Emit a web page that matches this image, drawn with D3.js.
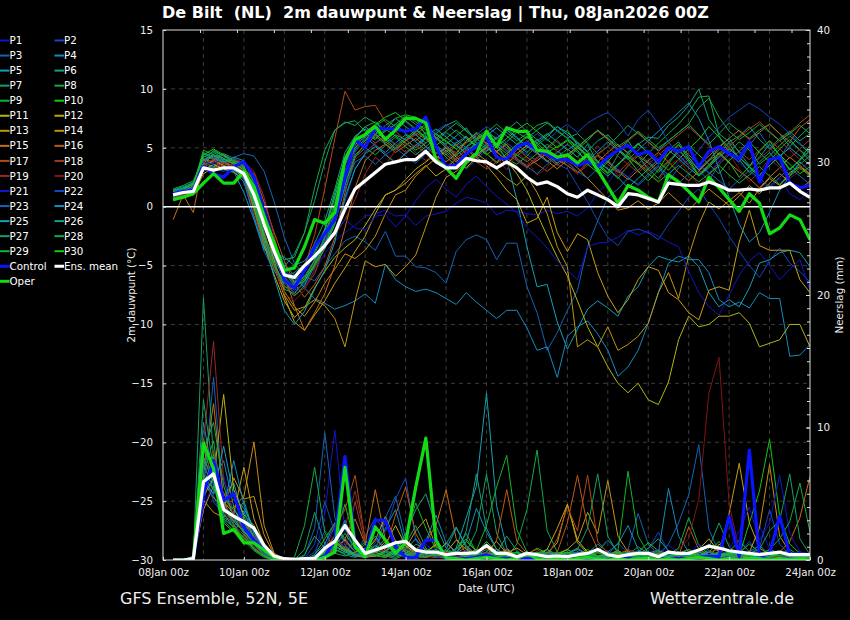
<!DOCTYPE html>
<html>
<head>
<meta charset="utf-8">
<script src="https://cdn.jsdelivr.net/npm/d3@7"></script>
<style>
  body { margin: 0; background: #000; }
  text { font-family: "DejaVu Sans", sans-serif; }
</style>
</head>
<body>
<svg id="chart" width="850" height="620"></svg>
<script>
// forecast steps (hours after 08Jan2026 00z), 6-hourly
const stepHours = d3.range(6, 385, 6);

// ---- 2m dewpoint (°C) ----
const dewControl = [1.1,1.3,1.4,3.4,2.8,2.5,3.4,3.8, 2.5,-0.5,-3.4,-6.2,-6.9,-5.4,-3.4,-2.3,
  -1.1,2.5,5.7,5.0,6.7,6.6,6.6,6.4, 6.6,7.6,5.1,3.4,3.5,4.5,5.1,5.9,
  4.2,4.0,5.1,5.4,4.8,4.4,4.0,4.0, 3.5,3.8,3.4,4.2,4.8,5.2,4.4,4.7,
  3.8,5.0,4.7,5.1,3.4,4.7,5.1,4.5, 4.1,5.5,2.1,4.0,4.2,2.0,1.6,1.8];
const dewOper = [0.6,0.8,1.1,2.0,2.8,2.0,2.0,3.0, 1.7,-0.8,-3.1,-5.4,-5.2,-3.4,-1.1,-1.4,
  -0.5,4.0,5.7,6.1,6.8,5.7,6.5,7.5, 7.5,7.1,4.0,3.3,2.4,3.8,4.5,6.4,
  5.1,6.7,6.4,6.4,4.8,4.7,4.2,4.4, 3.7,4.4,3.1,1.7,0.3,1.8,1.4,0.8,
  0.4,2.7,2.1,1.3,0.4,2.5,1.6,0.6, -0.4,1.1,0.3,-2.3,-1.8,-0.7,-1.1,-2.8];
const dewMean = [1.0,1.2,1.3,3.3,3.1,3.3,3.3,2.8, 1.0,-1.5,-3.8,-5.8,-6.0,-5.0,-4.2,-3.3,
  -2.2,-0.2,1.5,2.2,2.9,3.6,3.8,4.0, 4.0,4.7,3.8,3.3,3.3,4.1,3.9,3.8,
  3.3,3.8,3.3,2.5,1.9,2.1,1.7,1.1, 0.8,1.4,1.0,0.6,0.0,1.1,1.0,0.7,
  0.4,2.0,1.9,1.8,1.8,2.1,1.8,1.4, 1.4,1.5,1.4,1.6,1.6,2.0,1.3,0.8];

// members P1..P30
const dewMembers = [
  [1.2,1.4,1.6,3.6,3.9,3.7,4.0,3.6, 2.5,0.2,-2.8,-5.0,-6.2,-6.8,-5.5,-4.0, -2.9,-2.2,-1.6,-0.8,-0.6,-0.3,-0.8,-0.7, -1.6,-0.8,-0.6,-0.4,0.3,0.8,0.6,0.3, -0.7,-0.3,-0.4,-0.6,-0.7,-0.3,-0.6,-0.4, -0.8,-0.1,1.2,2.0,3.2,2.5,3.4,4.0, 3.1,2.6,3.8,4.4,3.5,2.8,3.9,4.6, 3.7,3.0,2.2,1.5,2.4,1.1,0.6,1.4],
  [0.9,1.1,1.3,3.2,3.5,3.9,3.3,2.8, 1.1,-1.8,-4.2,-6.4,-7.1,-6.6,-5.0,-3.6, -2.0,0.5,3.2,4.6,5.4,5.9,5.2,5.8, 6.2,5.1,4.6,4.9,5.5,4.8,5.3,6.0, 5.4,4.7,5.0,4.4,3.9,4.5,3.6,3.2, 1.8,0.4,-1.2,-2.6,-3.3,-2.1,-1.9,-2.2, -2.8,-1.5,-0.4,0.8,1.5,0.2,-1.0,-2.5, -3.8,-5.0,-6.0,-4.6,-3.5,-4.8,-5.5,-6.4],
  [1.0,1.3,1.5,3.0,3.4,3.8,4.2,4.5, 4.3,3.0,0.4,-2.6,-4.8,-5.9,-6.3,-5.1, -4.0,-2.9,-2.5,-3.0,-3.7,-2.1,-4.2,-4.2, -5.1,-5.2,-5.6,-6.5,-3.8,-2.8,-2.4,-2.8, -4.5,-3.1,-3.1,-6.8,-9.0,-12.2,-10.7,-8.8, -7.1,-3.4,-1.2,0.8,1.5,2.4,1.9,2.8, 3.5,2.1,3.3,4.0,3.1,2.2,3.6,4.4, 3.8,5.2,6.3,5.0,4.1,5.5,4.8,4.2],
  [1.3,1.5,1.8,3.9,4.4,3.5,3.0,2.1, -0.8,-3.5,-4.6,-5.0,-5.8,-6.9,-7.8,-8.2, -8.7,-8.4,-8.0,-7.4,-8.2,-4.9,-6.2,-6.8, -7.2,-7.0,-7.3,-7.8,-8.3,-7.3,-8.1,-8.8, -9.5,-8.8,-8.8,-10.3,-12.2,-11.9,-14.5,-11.0, -10.2,-9.7,-10.8,-12.2,-14.4,-13.6,-12.2,-9.9, -7.3,-4.8,-4.2,-4.5,-4.5,-5.6,-7.9,-8.5, -8.1,-8.6,-7.3,-7.8,-7.8,-12.7,-12.6,-11.7],
  [1.1,1.2,1.6,3.4,4.6,4.1,3.6,3.2, 1.8,-0.9,-3.2,-5.2,-6.4,-5.9,-4.6,-2.8, -0.4,3.1,4.8,5.6,6.2,5.4,6.1,5.7, 5.0,5.8,5.2,4.6,5.4,6.0,5.1,4.7, 5.3,4.0,0.6,-3.4,-6.8,-6.6,-9.8,-12.1, -10.4,-8.7,-8.0,-8.6,-9.3,-7.6,-6.8,-5.1, -4.2,-4.5,-4.7,-4.2,-5.1,-7.3,-8.5,-7.9, -8.5,-6.9,-4.8,-4.5,-3.9,-3.7,-3.9,-5.1],
  [1.4,1.7,2.0,4.3,4.0,3.8,3.9,3.5, 0.6,-2.4,-4.5,-6.0,-5.6,-4.9,-3.1,-1.2, 1.5,4.6,6.0,6.6,5.8,6.4,7.0,6.2, 5.6,6.3,5.9,5.2,4.4,5.0,5.7,6.3, 5.8,6.6,5.9,5.1,5.6,6.2,5.5,4.8, 5.4,4.7,5.6,6.1,5.2,4.6,5.3,5.9, 5.8,6.9,7.6,8.6,10.0,7.4,6.2,5.5, 6.0,6.8,5.7,4.9,5.8,6.4,5.6,6.2],
  [1.2,1.5,1.9,4.6,4.2,4.5,4.1,3.3, 0.2,-2.6,-4.4,-5.1,-4.0,-2.2,0.5,3.8, 6.5,7.1,7.3,6.4,6.9,7.4,6.8,7.6, 7.0,6.2,5.8,5.3,6.0,6.7,5.4,5.0, 4.6,5.5,6.3,5.8,6.5,7.1,6.4,5.8, 6.2,5.4,4.5,5.1,6.0,6.9,6.2,5.5, 4.8,5.6,6.3,7.0,6.1,5.3,6.2,7.1, 6.4,5.8,6.5,7.0,6.2,5.1,6.0,6.8],
  [0.8,1.0,1.4,3.8,4.8,4.3,3.7,3.1, 1.0,-1.5,-4.0,-5.5,-6.5,-6.0,-5.2,-3.5, -1.5,1.8,4.4,5.2,6.0,5.3,4.8,5.6, 6.4,7.0,6.1,5.5,4.9,4.0,4.6,5.3, 5.9,5.2,4.4,3.8,4.5,5.3,4.7,4.1, 4.9,5.6,6.5,5.8,4.9,4.2,3.6,4.5, 5.4,6.2,7.0,8.0,9.3,9.4,6.0,4.6, 5.5,4.8,3.6,4.3,5.2,6.0,5.3,4.5],
  [1.5,1.8,2.2,4.1,3.6,3.3,3.5,2.7, 0.0,-3.0,-5.4,-7.0,-7.4,-6.3,-4.5,-2.5, 0.4,3.5,5.8,6.8,7.2,6.5,7.5,7.8, 7.6,6.0,5.1,4.2,3.5,4.4,5.6,6.2, 5.0,4.1,3.6,4.3,5.2,5.9,6.8,6.3, 5.5,4.6,3.8,3.2,2.4,3.5,4.3,3.7, 2.9,3.8,4.6,5.2,4.4,3.6,2.8,3.9, 4.7,5.5,4.6,3.8,4.9,5.7,4.8,3.9],
  [1.0,1.3,1.7,3.7,3.4,4.0,3.8,2.9, 0.9,-1.3,-3.6,-5.6,-6.7,-5.4,-3.8,-1.9, 1.2,4.0,5.5,6.2,5.7,6.6,6.0,5.4, 4.8,5.4,6.2,5.6,4.9,5.5,6.3,5.8, 5.2,4.5,5.3,6.0,5.4,4.6,5.1,5.7, 5.0,4.3,3.5,2.8,3.6,4.4,5.3,4.6, 3.8,3.1,4.0,4.9,5.7,6.8,5.9,5.0, 4.2,3.3,2.6,3.5,4.4,3.6,2.8,3.4],
  [0.7,0.9,1.2,3.1,3.6,3.2,2.9,2.4, -0.2,-3.3,-5.8,-8.0,-9.4,-8.6,-6.9,-5.5, -4.3,-3.5,-2.8,-1.6,-0.2,1.0,1.4,2.3, 3.2,3.8,4.5,5.0,4.2,3.6,4.4,5.1, 4.7,3.9,2.8,1.4,-0.6,-2.5,-4.3,-5.9, -8.0,-10.2,-11.9,-13.6,-15.0,-15.8,-15.0,-16.4, -16.8,-14.9,-11.3,-9.3,-10.2,-10.0,-9.3,-9.3, -9.0,-9.9,-11.9,-11.6,-11.3,-10.0,-10.0,-11.9],
  [0.6,0.8,1.0,2.8,3.3,3.7,3.4,3.0, 0.8,-2.2,-5.0,-7.6,-9.8,-10.5,-9.2,-8.0, -6.5,-5.2,-3.8,-2.5,-0.6,1.0,1.4,2.0, 2.8,3.5,2.6,3.2,4.1,4.8,4.2,3.5, 2.5,1.4,0.6,-1.4,-1.0,0.8,-2.2,-3.8, -2.3,-2.8,-5.6,-7.6,-9.0,-7.9,-6.2,-5.1, -5.4,-7.3,-7.9,-9.0,-9.6,-7.1,-6.8,-7.1, -3.0,-0.3,-3.3,-3.7,-3.7,-3.7,-6.2,-7.3],
  [0.9,1.1,1.4,3.3,3.9,3.5,3.1,2.6, 0.4,-2.6,-5.2,-7.5,-8.8,-8.5,-7.9,-8.4, -9.5,-11.9,-8.0,-4.6,-5.1,-4.9,-5.9,-5.1, -4.1,-1.7,0.8,2.5,3.0,3.8,4.5,3.9, 3.2,2.4,1.8,2.6,1.2,-0.6,-3.4,-5.1, -11.9,-11.3,-11.9,-10.2,-12.2,-11.7,-11.0,-9.9, -7.3,-5.6,-7.8,-4.2,-1.5,0.4,-0.2,0.5, 1.2,0.3,1.5,2.4,1.8,2.9,3.4,2.7],
  [1.3,1.2,1.5,3.5,4.0,4.4,3.7,3.2, 1.5,-1.4,-4.6,-7.2,-8.5,-9.3,-8.1,-6.5, -5.3,-4.0,-4.4,-3.7,-2.5,-0.6,1.0,1.4, 2.6,3.4,4.1,4.8,4.0,3.3,4.2,5.0, 4.4,3.6,4.5,5.2,4.6,3.9,3.2,4.0, 3.3,2.4,1.5,0.6,-0.3,-0.1,0.5,-0.2, 0.3,1.2,0.4,-0.3,0.6,1.5,0.8,0.1, 0.9,1.8,1.1,2.0,2.8,2.1,1.4,2.2],
  [-1.1,1.0,-0.5,4.0,3.8,4.1,3.6,3.3, 2.2,-0.5,-3.0,-5.8,-8.4,-10.5,-9.0,-7.4, -5.0,-1.8,1.6,3.9,4.8,5.3,4.6,5.2, 5.8,5.1,4.3,3.8,4.5,5.6,6.2,5.4, 4.7,5.3,4.1,3.4,3.9,4.6,4.0,3.5, 2.9,3.7,4.4,3.8,3.0,2.3,3.1,3.9, 4.6,3.8,2.9,2.2,3.0,3.9,4.5,3.7, 3.0,2.4,1.6,2.5,3.3,4.2,3.5,2.8],
  [0.5,0.9,1.3,3.7,3.9,3.4,4.0,3.6, 2.8,0.4,-2.2,-4.6,-6.5,-7.7,-6.6,-5.1, -2.6,1.2,4.2,5.4,6.1,5.5,4.9,5.6, 6.3,5.7,5.0,4.4,3.8,4.6,5.2,4.5, 3.7,4.3,5.0,4.2,3.6,3.0,3.7,4.4, 5.1,4.4,3.8,4.6,5.3,4.5,3.7,3.0, 3.8,4.5,5.2,4.4,3.6,4.3,5.1,5.8, 6.5,5.7,6.3,7.0,6.2,5.5,6.7,7.4],
  [1.1,1.4,1.7,3.9,4.2,3.7,3.3,2.5, -0.4,-3.2,-5.0,-6.8,-7.0,-5.1,-2.4,1.5, 5.8,9.8,8.2,8.5,8.6,7.2,6.4,5.6, 6.1,6.8,5.9,5.0,4.6,5.4,6.0,5.3, 4.6,4.0,4.8,5.6,4.9,4.2,3.5,4.3, 5.0,5.8,6.4,5.7,4.9,5.6,6.3,5.5, 4.7,5.4,6.1,6.8,6.0,5.2,4.4,5.1, 5.9,6.6,7.2,6.4,5.6,6.3,7.1,7.8],
  [0.7,1.0,1.5,3.4,3.2,3.8,3.5,3.0, 1.2,-1.6,-4.0,-6.2,-7.5,-6.9,-5.7,-3.3, -0.6,2.5,5.0,6.1,5.4,6.0,5.3,4.6, 5.2,4.5,3.9,4.7,5.3,4.6,3.8,3.2, 3.8,4.5,3.9,3.3,4.1,4.8,4.2,3.5, 2.8,3.5,4.3,3.6,2.9,3.7,4.5,3.8, 3.1,3.9,4.7,4.0,3.2,4.0,4.8,5.5, 4.7,4.0,4.8,5.6,4.9,4.1,4.9,5.7],
  [1.0,1.2,1.4,3.6,4.0,3.6,3.9,3.8, 3.0,0.8,-2.5,-5.9,-7.0,-6.0,-4.7,-3.4, -2.4,-1.1,0.6,2.8,4.2,3.5,4.8,5.4, 4.6,3.9,4.5,5.1,4.4,3.7,4.3,4.9, 5.5,4.8,4.1,3.5,4.2,4.9,5.6,4.9, 4.2,3.6,4.4,5.1,4.3,3.6,2.9,3.6, 4.4,5.1,4.3,3.5,2.8,3.6,4.3,5.0, 4.2,3.4,4.1,4.8,5.6,4.8,4.0,4.7],
  [0.9,1.1,1.3,3.5,3.7,3.3,3.6,3.4, 1.6,-2.0,-5.2,-7.4,-8.0,-7.1,-5.3,-3.0, 0.3,2.6,4.0,4.7,5.3,4.5,3.8,4.6, 5.3,4.6,4.0,3.4,4.1,4.8,4.1,3.5, 4.2,3.1,4.6,3.9,2.7,3.3,4.9,4.0, 2.8,3.9,5.2,4.1,2.6,3.4,4.4,3.0, 2.2,3.5,4.0,2.9,1.8,2.6,3.8,4.5, 3.2,2.1,3.0,4.1,3.3,2.4,3.1,3.9],
  [1.2,1.5,1.8,3.8,3.6,4.2,3.9,3.4, 1.3,-1.0,-3.4,-5.4,-6.1,-5.6,-4.2,-2.6, -2.2,-1.1,-1.8,-2.0,-0.8,-0.7,-1.7,-0.8, 0.5,1.6,2.3,1.5,0.8,1.9,2.6,1.7, 0.9,0.2,-0.5,-1.8,-2.6,-3.5,-4.6,-5.4, -6.2,-3.4,-3.1,-3.0,-2.6,-2.0,-2.4,-2.1, -2.5,-3.0,-3.4,-5.5,-7.3,-8.5,-9.2,-7.5, -5.8,-4.6,-3.9,-5.0,-6.2,-5.3,-4.5,-7.1],
  [1.0,1.4,1.6,3.3,3.8,4.4,4.1,3.7, 2.4,-0.5,-3.3,-5.6,-6.6,-6.2,-4.9,-3.2, -1.0,2.2,4.6,5.9,6.5,5.8,6.6,7.2, 6.5,5.8,6.4,7.0,6.3,5.5,6.1,6.8, 6.2,5.4,4.8,5.5,6.2,5.6,6.4,7.0, 6.3,7.1,7.6,8.0,7.2,6.0,7.4,8.2, 7.0,5.5,4.4,3.6,4.8,5.9,6.7,7.6, 8.2,8.8,8.3,7.6,7.0,6.2,5.4,4.6],
  [0.8,1.1,1.4,3.1,3.3,3.0,3.5,2.3, -1.0,-3.8,-5.5,-6.5,-7.3,-6.4,-4.8,-3.0, -0.8,1.5,3.8,4.3,3.6,4.4,5.0,4.3, 3.7,4.5,5.2,4.6,3.9,3.2,4.0,4.8, 5.4,4.7,4.0,3.4,2.8,3.6,4.3,3.7, 3.0,2.4,3.2,3.9,3.1,2.5,1.8,2.6, 3.4,2.7,2.0,2.8,3.6,2.9,2.2,1.5, 2.3,3.1,2.4,1.7,2.5,3.3,2.6,1.9],
  [1.4,1.6,2.1,4.0,4.3,3.9,3.0,1.2, -1.1,-3.7,-3.9,-4.3,-5.0,-4.6,-3.5,-2.0, 0.9,3.6,5.3,5.9,5.2,4.6,5.4,6.1, 5.5,4.8,5.6,6.3,5.7,5.0,4.3,5.1, 5.8,6.5,5.8,5.1,4.5,3.8,4.6,5.3, 4.6,3.9,4.7,5.5,4.8,4.0,4.8,5.6, 6.4,7.2,8.0,8.8,7.5,5.6,3.2,0.8, -1.5,-3.0,-2.2,-0.5,1.4,2.6,3.8,3.0],
  [1.1,1.3,1.5,3.3,3.0,3.4,3.1,2.5, 0.3,-2.9,-6.0,-8.8,-10.0,-8.9,-7.0,-5.4, -3.0,0.8,3.2,4.5,5.1,4.4,3.7,4.5, 5.2,5.9,6.6,5.9,5.2,4.5,5.3,6.0, 6.7,6.0,5.3,4.6,5.4,6.1,6.8,6.1, 5.4,4.7,3.9,3.2,2.5,1.6,2.4,3.2, 4.0,4.8,4.1,3.3,2.6,3.4,4.2,4.9, 4.2,3.4,2.7,3.5,4.3,5.0,4.3,3.5],
  [1.3,1.6,1.9,4.5,4.1,3.8,4.2,3.9, 2.0,-0.8,-3.6,-5.8,-6.3,-5.5,-4.0,-2.1, 0.8,3.8,5.9,6.8,6.1,6.9,7.5,6.8, 6.1,5.4,6.2,6.9,7.3,6.5,5.8,5.1, 5.8,6.5,7.2,6.4,5.7,5.0,5.8,6.5, 5.2,4.1,3.3,2.6,3.5,4.6,5.4,4.5, 3.6,4.8,5.5,4.2,3.1,3.9,5.0,5.8, 4.6,3.5,4.2,5.3,4.4,3.2,3.9,4.8],
  [0.9,1.2,1.5,3.7,4.4,4.0,3.7,3.2, 0.5,-2.2,-4.8,-6.7,-7.6,-6.7,-5.0,-3.6, -1.4,1.9,4.2,5.0,4.4,5.2,5.9,5.1, 4.4,5.1,5.8,5.0,4.3,5.1,5.8,6.5, 5.7,5.0,4.3,5.0,5.7,4.9,4.2,4.9, 4.2,5.3,3.7,2.9,4.4,5.6,4.3,3.2, 2.4,3.6,4.9,3.8,2.6,3.3,4.5,5.4, 4.0,2.9,3.8,4.6,3.5,2.7,3.6,4.3],
  [1.2,1.4,2.0,4.2,4.7,4.3,3.8,3.4, 1.4,-1.8,-3.8,-4.5,-4.3,-2.2,1.6,4.8, 6.5,7.2,6.9,7.6,7.1,6.4,7.0,7.7, 7.2,6.5,5.8,6.4,7.1,6.4,5.7,6.3, 7.0,6.3,5.6,6.2,6.9,7.2,6.5,5.8, 5.1,5.8,6.5,5.8,5.1,5.7,6.4,5.7, 5.0,5.6,6.3,7.0,8.4,9.2,7.6,6.4, 5.7,6.3,7.0,6.3,5.6,6.2,6.9,6.2],
  [1.0,1.3,1.8,4.8,4.4,4.1,3.6,2.8, 0.4,-2.7,-5.0,-6.4,-6.9,-6.1,-4.5,-2.6, 0.2,3.0,5.0,5.7,6.4,5.7,5.0,5.8, 6.5,5.8,5.1,4.4,5.2,5.9,5.2,4.5, 3.8,4.5,5.2,5.9,5.2,4.4,3.7,4.4, 5.1,4.4,3.6,2.9,3.6,4.3,3.6,2.8, 2.1,2.8,3.5,2.8,2.1,2.8,3.5,2.7, 2.0,2.7,3.4,2.6,1.9,2.6,3.3,2.6],
  [1.1,1.5,1.9,4.4,4.9,4.4,3.9,3.4, 1.7,-1.2,-3.9,-6.0,-6.8,-6.3,-4.9,-3.3, -1.2,2.8,5.2,6.3,7.0,7.6,8.0,7.3, 6.6,5.9,5.2,5.8,6.5,5.8,5.1,4.4, 5.1,5.8,6.5,7.1,6.4,5.7,5.0,5.6, 4.8,3.6,2.9,3.8,4.9,4.1,3.0,2.2, 3.1,4.5,5.3,4.0,2.7,3.5,4.6,3.8, 2.5,3.4,4.7,5.6,4.3,3.1,4.0,5.2]
];

// ---- precipitation per 6h (mm) ----
const rainControl = [0,0,0.1,5.0,7.5,4.5,5.0,2.5, 1.5,0.75,0.2,0,0,0,0,0.3,
  1.5,7.8,1.3,0.5,3.0,3.0,1.0,0.2, 0.2,1.5,1.5,0.1,0.1,0.1,0.2,0.4,
  0.1,0.1,0,0.1,0.1,0,0.1,0, 0.1,0.2,0.1,0,0.1,0.1,0,0.1,
  0,0.1,0.1,0.1,0.2,0.3,0.25,3.3, 0.25,8.3,0.25,0.5,3.3,0.4,0.5,0.4];
const rainOper = [0,0,0.1,8.8,6.9,2.0,2.3,1.3, 1.3,0.75,0.2,0,0,0,0,0.2,
  0.6,7.0,1.0,0.25,2.5,1.5,0.5,1.3, 5.5,9.2,1.5,0.15,0.1,0,0.1,0.2,
  0.1,0,0.1,0.5,0.1,0,0.1,0, 0.1,0.2,0.1,0,0.1,0,0.1,0.1,
  0,0.1,0,0.1,0.2,0.1,0,0.1, 0,0.1,0.1,0,0.1,0,0.1,0];
const rainMean = [0,0,0.1,5.9,6.5,3.8,3.3,2.9, 2.4,1.1,0.3,0.1,0.05,0.1,0.1,0.9,
  1.4,2.6,1.5,0.5,0.75,1.0,1.3,1.4, 0.75,0.6,0.6,0.4,0.5,0.5,0.55,1.1,
  0.5,0.5,0.25,0.5,0.4,0.25,0.3,0.25, 0.4,0.5,0.8,0.4,0.25,0.4,0.5,0.5,
  0.25,0.6,0.5,0.5,0.75,1.05,0.9,0.7, 0.6,0.5,0.4,0.5,0.6,0.4,0.4,0.4];

const rainMembers = [
  [0,0,0.1,4.2,7.8,3.5,2.4,3.1, 1.5,0.6,0.1,0,0,0,0.2,3.5, 9.8,2.1,0.5,0.3,0.8,1.6,0.4,0.2, 0.6,1.2,0.5,0.1,0,0.3,0.2,0.1, 0.4,0.9,0.2,0,0.1,0.3,0.5,0.2, 0.1,0,0.2,0.6,0.3,0.1,0,0.2, 0.4,1.1,0.6,0.2,0.1,0.3,0.5,0.2, 0,0.4,2.6,0.8,0.2,0.1,0.3,0.1],
  [0,0,0.2,6.3,4.9,2.8,3.6,2.2, 1.1,0.4,0,0,0,0.1,0.6,2.2, 1.5,0.8,0.3,1.8,3.2,2.1,4.6,6.2, 1.5,0.4,0.2,0.6,0.3,0.1,0.2,0.5, 0.3,0.1,0,0.2,0.4,0.1,0,0.3, 0.6,0.2,0.1,0.4,1.3,0.5,0.2,0.8, 2.1,0.6,0.2,0.4,0.9,0.3,0.1,0.2, 0.5,1.4,0.4,0.1,0.3,0.6,0.2,0.1],
  [0,0,0.1,5.5,13.8,4.1,2.6,1.9, 0.8,0.3,0,0,0,0.3,2.4,9.6, 3.2,1.1,0.4,0.2,0.5,1.0,0.6,0.2, 0.1,0.3,0.5,0.2,0,0.1,0.4,0.2, 0.1,0,0.2,0.3,0.1,0,0.2,0.4, 0.2,0.6,0.3,0.1,0.2,0.8,3.5,1.2, 0.4,1.2,2.8,4.9,8.7,2.3,0.6,0.2, 0.3,0.5,0.2,0.1,0.4,0.2,0.1,0.3],
  [0,0,0.2,10.4,6.1,7.5,4.0,2.2, 1.4,0.6,0.1,0,0,0,0.4,1.2, 2.8,1.6,0.6,0.3,0.9,2.4,3.8,1.1, 0.5,0.8,0.3,0.2,0.6,1.4,3.9,2.1, 0.8,0.3,0.1,0.2,0.4,0.3,0.1,0.5, 0.9,0.4,0.2,0.6,1.2,2.6,0.8,0.3, 0.5,5.4,1.8,0.6,0.3,0.2,0.4,0.1, 0.3,0.6,1.1,0.4,0.2,0.1,0.3,0.2],
  [0,0,0.1,7.2,5.4,4.8,5.8,3.1, 1.2,0.5,0,0,0,0.1,0.3,0.8, 1.5,2.4,0.8,0.4,1.1,0.6,0.3,0.8, 1.6,0.7,0.4,0.3,0.9,3.2,5.6,12.6, 4.1,0.9,0.3,0.1,0.4,0.8,0.3,0.2, 0.5,0.3,0.1,0.2,0.6,0.4,0.2,0.1, 0.3,0.7,0.4,0.2,0.5,1.2,0.6,0.2, 0.1,0.3,0.2,0.5,0.3,0.1,0.2,0.4],
  [0,0,0.3,8.4,6.0,3.2,2.8,4.5, 2.0,0.8,0.2,0,0,0,0.2,0.6, 1.4,3.0,1.2,0.5,0.3,0.7,1.5,0.8, 0.4,0.2,0.6,1.2,2.5,0.9,0.3,0.2, 0.5,1.8,0.7,0.2,0.1,0.3,0.6,0.4, 0.2,0.5,1.2,0.6,0.3,0.2,0.4,0.9, 1.6,0.7,0.3,0.5,0.2,0.1,0.3,0.6, 1.5,0.6,0.3,0.2,0.4,0.8,0.3,0.2],
  [0,0,0.2,19.8,7.5,3.0,2.2,1.8, 0.9,0.3,0,0,0,0.8,3.6,1.2, 0.6,1.0,0.4,0.2,0.6,0.3,0.1,0.4, 1.2,0.8,0.3,0.1,0.2,0.6,2.2,6.5, 2.0,0.5,0.2,0.3,0.1,0.2,0.4,0.8, 0.3,0.2,0.5,0.3,0.1,0.4,1.0,0.5, 0.2,0.3,0.6,0.4,0.2,0.9,2.8,1.0, 0.3,0.2,0.5,0.3,0.2,0.4,0.6,0.3],
  [0,0,0.1,6.6,9.0,3.6,3.0,2.4, 1.4,0.6,0.1,0,0.2,2.6,7.0,2.1, 0.8,0.5,1.5,0.6,0.3,0.2,0.5,1.0, 0.4,0.2,0.6,0.3,0.8,2.0,0.6,0.3, 0.5,0.2,1.2,3.8,8.3,2.2,0.6,0.3, 0.6,0.3,0.2,0.4,0.7,0.3,0.5,0.6, 0.2,0.4,0.9,3.2,1.1,0.4,0.2,0.3, 0.6,0.4,0.2,0.8,0.5,0.2,0.3,0.5],
  [0,0,0.2,5.2,8.0,4.2,2.6,1.5, 0.7,0.2,0,0,0,0,0.4,1.6, 2.8,1.4,0.6,0.9,0.4,0.2,0.6,1.8, 4.3,2.4,0.8,0.3,0.5,1.4,0.7,2.6, 5.5,7.9,2.3,0.6,0.3,0.2,0.5,0.8, 0.4,0.2,0.6,1.5,0.7,6.7,1.8,0.5, 0.5,0.3,0.6,0.2,0.4,0.7,0.3,0.2, 0.5,1.2,0.6,0.3,0.2,0.5,0.4,0.2],
  [0,0,0.1,9.2,6.4,2.8,2.1,3.3, 1.6,0.5,0,0,0,0,0.1,0.7, 1.8,4.2,1.3,0.5,0.8,1.6,0.7,0.3, 0.2,0.6,1.1,0.4,0.2,0.3,0.5,1.4, 0.6,0.3,0.2,0.4,0.9,0.5,0.3,0.2, 0.4,0.8,0.3,0.2,0.5,0.3,0.6,1.3, 0.7,0.4,0.2,0.5,0.3,0.6,1.4,0.5, 0.3,2.8,5.2,9.1,3.3,1.2,0.5,0.3],
  [0,0,0.2,4.8,6.2,12.5,5.3,3.4, 2.6,1.0,0.2,0,0,0,0.1,0.4, 0.9,1.5,0.6,0.3,0.5,1.2,2.6,1.1, 0.5,0.3,0.2,0.6,1.5,0.8,0.3,0.2, 0.4,0.7,0.3,0.1,0.2,0.5,1.3,4.2, 1.5,0.6,0.3,0.2,0.4,0.3,0.1,0.2, 0.3,0.2,0.4,0.6,0.3,0.2,1.2,0.5, 0.3,0.1,0.2,0.4,0.3,0.2,0.1,0.3],
  [0,0,0.1,3.8,5.6,4.4,3.5,7.0, 3.1,1.2,0.3,0,0,0,0.2,0.6, 1.3,0.7,0.3,0.6,1.5,3.3,1.4,0.5, 0.3,0.6,1.2,0.5,0.2,0.4,0.8,0.3, 0.2,0.5,0.9,0.4,0.2,0.8,2.4,4.2, 1.3,0.5,0.3,0.2,0.6,0.4,0.2,0.3, 0.5,0.2,0.4,0.3,0.8,1.6,0.6,3.5, 7.3,2.8,0.9,0.4,0.2,0.5,0.3,0.2],
  [0,0,0.2,5.9,4.7,3.9,6.2,4.6, 4.8,1.9,0.4,0,0,0,0.1,0.5, 1.1,0.6,0.3,0.2,0.6,1.4,0.5,0.9, 2.2,3.1,1.0,0.4,0.2,0.5,0.3,0.6, 1.4,0.5,0.2,0.3,0.6,0.2,0.4,0.8, 1.5,3.6,2.0,6.0,1.8,0.6,0.3,0.2, 0.4,0.3,0.5,0.2,0.3,0.6,0.4,0.2, 0.3,0.2,0.4,0.6,0.3,0.2,0.5,0.3],
  [0,0,0.1,4.5,3.6,3.2,4.0,4.8, 8.9,2.6,0.5,0.1,0,0,0.2,0.7, 1.4,0.8,0.4,0.2,0.3,0.7,1.1,0.6, 0.3,0.2,0.5,1.3,0.6,0.4,0.2,0.5, 0.8,0.4,0.2,0.6,0.3,0.2,0.5,0.4, 0.3,0.6,0.2,0.4,0.7,0.3,0.2,0.5, 0.8,0.4,0.6,0.3,0.2,0.4,0.5,0.3, 0.2,0.6,2.4,7.2,1.8,0.6,0.3,0.2],
  [0,0,0.2,6.8,11.8,4.4,2.9,2.1, 1.3,0.5,0.1,0,0,0,0.1,0.3, 0.8,1.6,3.1,1.2,5.3,1.5,0.6,0.3, 0.8,1.4,2.6,5.3,1.6,0.5,0.3,0.2, 0.4,0.8,0.3,0.2,0.5,0.4,0.2,0.3, 0.6,0.4,0.2,0.3,0.5,0.7,0.3,0.2, 0.4,0.2,0.5,0.8,0.4,0.2,0.3,0.5, 0.3,0.2,0.4,0.3,0.6,1.4,3.2,6.3],
  [0,0,0.1,5.0,7.2,3.8,4.6,3.0, 1.8,0.7,0.2,0,0,0,0.3,0.9, 1.8,0.9,0.4,0.7,1.6,0.8,3.4,5.5, 2.0,0.6,0.3,0.2,0.5,1.0,0.4,0.3, 1.5,5.3,1.4,0.5,0.2,0.3,0.6,2.8, 6.4,2.5,0.8,0.3,0.2,0.5,0.4,0.3, 0.2,0.6,0.3,2.5,0.8,0.4,0.2,0.3, 0.5,0.3,0.2,0.4,0.3,0.5,0.2,0.4],
  [0,0,0.2,7.6,6.3,5.1,3.3,2.5, 1.5,0.6,0.1,0,0,0,0.2,0.8, 2.6,3.8,6.4,1.5,0.6,0.3,0.8,1.3, 0.5,0.2,0.4,0.7,0.3,0.2,0.6,0.9, 0.4,0.2,0.3,0.5,0.8,0.3,1.6,4.0, 2.2,6.4,1.4,0.5,0.3,0.6,0.4,0.2, 0.3,0.5,0.2,0.4,0.3,0.6,0.8,0.3, 0.2,0.4,0.3,0.5,0.2,0.3,0.6,0.4],
  [0,0,0.1,6.2,8.3,4.2,2.7,1.6, 0.9,0.4,0,0,0,0,0.2,0.6, 1.9,0.8,4.4,1.2,0.5,0.3,0.6,1.4, 0.8,0.4,0.2,0.3,0.5,0.2,0.4,0.6, 0.3,0.2,0.4,0.3,0.2,0.5,0.4,0.3, 0.2,0.5,0.3,0.2,0.4,0.8,0.5,0.3, 0.6,0.3,0.2,0.4,0.6,0.3,0.5,0.2, 0.4,0.3,0.6,0.2,0.3,0.5,0.4,0.3],
  [0,0,0.2,8.8,16.5,6.0,3.6,2.0, 1.1,0.4,0.1,0,0,0,0.1,0.5, 1.2,2.5,5.2,1.6,0.4,0.2,0.5,0.9, 0.4,0.2,0.3,0.6,0.2,0.4,0.3,0.2, 0.5,0.3,0.2,0.4,0.6,0.3,0.2,0.4, 0.3,0.2,0.5,0.3,0.6,0.4,0.2,0.3, 0.5,0.3,0.4,0.6,0.2,0.3,0.5,0.4, 0.2,0.3,0.5,0.3,0.4,0.2,0.3,0.5],
  [0,0,0.1,5.4,7.0,3.9,2.3,1.8, 1.0,0.3,0,0,0,0,0.2,0.4, 0.9,1.4,0.6,0.3,0.5,0.8,0.4,0.2, 0.3,0.5,0.2,0.4,0.3,0.6,0.2,0.3, 0.4,0.2,0.3,0.5,0.2,0.4,0.3,0.2, 0.5,0.3,0.2,0.4,0.6,0.3,0.2,0.5, 0.3,0.4,0.8,1.6,4.6,12.6,15.3,4.2, 0.8,0.3,0.2,0.4,0.3,0.2,0.4,0.3],
  [0,0,0.2,4.0,5.8,6.4,3.1,2.4, 1.6,0.5,0.1,0,0,0,0.3,1.0, 2.4,1.2,0.5,0.8,2.6,1.4,0.6,0.3, 0.2,0.5,0.9,0.4,0.2,0.6,0.3,0.5, 0.3,0.2,0.6,0.4,0.3,0.2,0.5,0.3, 0.4,0.2,0.3,0.5,0.2,0.4,0.3,0.6, 0.8,0.4,0.3,0.5,1.2,0.6,0.3,0.8, 2.2,4.0,1.5,2.8,6.4,2.0,0.6,0.3],
  [0,0,0.1,6.9,4.4,3.4,2.8,3.6, 2.2,0.8,0.2,0,0,0.1,1.2,4.4, 2.1,0.7,0.3,0.5,1.3,2.8,1.2,0.5, 0.3,0.6,0.2,0.4,0.8,0.3,0.2,0.4, 0.6,0.3,0.2,0.5,0.3,0.4,0.2,0.3, 0.5,0.3,0.8,1.5,0.6,0.3,0.2,0.4, 0.3,0.5,0.2,0.4,0.3,0.6,0.4,0.2, 0.3,0.5,0.9,3.8,1.2,0.4,0.3,0.2],
  [0,0,0.2,7.4,5.2,4.0,3.4,2.6, 1.4,0.5,0.1,0,0,0,0.2,0.8, 1.5,2.9,1.0,0.4,0.7,3.2,4.8,1.6, 0.6,0.3,0.5,0.2,0.4,0.7,0.3,0.2, 0.4,0.6,0.3,0.2,0.5,0.3,0.2,0.4, 0.6,0.3,0.2,0.4,0.3,0.5,0.2,0.3, 0.4,0.6,0.3,0.5,0.2,0.4,0.3,0.6, 0.4,0.2,0.3,0.5,0.3,0.2,0.4,0.3],
  [0,0,0.1,5.6,6.8,3.9,7.5,4.2, 2.0,0.8,0.2,0,0,0,0.1,0.5, 1.0,0.6,0.3,0.9,1.8,0.7,0.4,0.3, 0.6,1.4,3.4,1.3,0.5,0.3,0.6,0.4, 0.2,0.5,0.3,0.4,0.2,0.6,0.3,0.5, 0.8,0.4,0.2,0.3,0.6,0.4,0.7,0.3, 0.5,0.2,0.4,0.3,0.6,0.4,0.2,0.5, 0.3,0.6,0.4,0.2,0.5,0.3,0.2,0.4],
  [0,0,0.2,6.0,5.0,8.6,4.8,3.9, 2.4,1.0,0.3,0,0,0,0.2,0.6, 1.3,0.8,0.4,0.2,0.6,1.2,0.8,0.4, 0.3,0.6,0.4,0.8,2.4,1.1,0.4,0.3, 0.5,0.3,0.2,0.6,0.4,0.3,0.5,0.2, 0.4,0.6,0.3,0.2,0.5,0.3,0.4,0.6, 0.3,0.2,0.5,0.4,0.3,0.6,0.2,0.4, 0.5,0.3,0.2,0.4,0.6,0.3,0.2,0.3],
  [0,0,0.1,7.8,5.7,3.1,2.5,3.7, 1.7,0.6,0.1,0,0,0,0.3,0.7, 0.8,0.4,0.2,0.5,1.1,0.4,0.8,2.0, 3.8,5.0,2.6,0.9,0.4,2.2,6.5,2.4, 0.8,0.3,0.2,0.5,0.3,0.6,0.4,0.2, 0.3,0.5,0.2,0.4,0.3,0.6,0.4,0.2, 0.5,0.3,0.6,0.4,0.2,0.3,0.5,0.3, 0.2,0.4,0.6,0.3,0.5,0.2,0.3,0.4],
  [0,0,0.2,12.1,6.7,4.0,2.9,2.2, 1.2,0.4,0,0,0,0,0.1,0.4, 1.6,0.7,0.3,0.6,0.4,0.2,0.5,1.2, 2.6,0.9,0.4,0.3,0.6,0.2,0.4,0.8, 0.3,0.2,0.5,0.3,0.6,0.4,0.2,0.5, 0.8,2.4,6.5,1.8,0.5,0.3,0.2,0.6, 0.4,0.3,0.5,0.8,0.3,0.2,0.4,0.6, 0.3,0.5,0.8,2.2,3.0,6.5,1.6,0.4],
  [0,0,0.1,8.2,10.4,5.6,3.2,2.0, 0.9,0.3,0,0,0,0.4,1.8,0.9, 0.5,0.3,0.6,1.4,0.8,0.4,0.2,0.5, 0.9,0.4,0.3,0.7,0.5,0.2,0.4,0.3, 0.6,0.4,0.2,0.3,0.5,0.2,0.4,0.6, 0.3,0.5,0.8,0.4,0.2,0.6,0.3,0.4, 0.7,0.4,0.3,0.5,0.2,0.4,0.6,0.3, 0.5,0.3,0.4,0.8,1.6,2.9,5.8,2.1],
  [0,0,0.2,5.8,7.4,3.5,2.4,1.7, 0.8,0.3,0,0,0,0,0.2,0.5, 1.1,2.0,0.9,0.4,0.3,0.6,1.3,0.7, 0.4,0.2,0.5,0.3,0.8,1.6,0.6,0.3, 0.2,0.4,0.6,0.3,0.5,0.8,0.4,0.2, 0.4,0.3,0.6,0.2,0.5,0.4,0.3,0.6, 0.3,0.5,0.4,0.2,0.6,0.3,0.5,0.4, 0.2,0.3,0.5,0.4,0.3,0.6,0.2,0.3],
  [0,0,0.1,6.4,5.3,4.6,3.8,2.8, 1.5,0.6,0.1,0,0,0,0.2,0.6, 1.4,0.8,0.5,1.2,0.6,0.3,0.7,0.4, 0.3,0.5,0.8,0.4,0.6,0.3,0.2,0.5, 0.4,0.3,0.6,0.2,0.5,0.3,0.4,0.6, 0.2,0.5,0.3,0.4,0.6,0.3,0.5,0.2, 0.4,0.6,0.3,0.5,0.2,0.4,0.3,0.5, 0.6,0.3,0.4,0.2,0.5,0.3,0.4,0.2]
];

// member colours (P1..P20, repeated for P21..P30)
const memberColors = ["#1414c8","#1446c0","#1464b4","#148cc0","#14a0b4","#14a082","#14a064","#14aa46","#14b428","#14c814",
  "#b4b414","#c8a014","#be9614","#c88c14","#c86e14","#be5a14","#b44a14","#a03c1e","#962828","#821414"];
const memberNames = d3.range(1, 31).map(n => "P" + n);

const dewTicks = [-30, -25, -20, -15, -10, -5, 0, 5, 10, 15];
const rainTicks = [0, 10, 20, 30, 40];
const dateTickHours = [0, 48, 96, 144, 192, 240, 288, 336, 384];
const dateTickLabels = ["08Jan 00z","10Jan 00z","12Jan 00z","14Jan 00z","16Jan 00z","18Jan 00z","20Jan 00z","22Jan 00z","24Jan 00z"];

// =========================
// SETUP
// =========================
const W = 850, H = 620;
const margin = { top: 30, right: 40, bottom: 60, left: 163 };
const svg = d3.select("#chart");

const x = d3.scaleLinear().domain([0, 384]).range([margin.left, W - margin.right]);
const yDew = d3.scaleLinear().domain([-30, 15]).range([H - margin.bottom, margin.top]);
const yRain = d3.scaleLinear().domain([0, 40]).range([H - margin.bottom, margin.top]);

svg.append("rect").attr("width", W).attr("height", H).attr("fill", "#000");

svg.append("defs").append("clipPath").attr("id", "plot-clip")
    .append("rect")
    .attr("x", margin.left).attr("y", margin.top)
    .attr("width", W - margin.left - margin.right)
    .attr("height", H - margin.top - margin.bottom);

// =========================
// GRID
// =========================
const grid = svg.append("g").attr("stroke", "#3c3c3c").attr("stroke-dasharray", "4,4");
grid.selectAll("line.h")
    .data(dewTicks.filter(d => d > -30 && d < 15 && d !== 0))
    .join("line")
    .attr("x1", margin.left).attr("x2", W - margin.right)
    .attr("y1", d => yDew(d)).attr("y2", d => yDew(d));
grid.selectAll("line.v")
    .data(d3.range(24, 384, 24))
    .join("line")
    .attr("x1", d => x(d)).attr("x2", d => x(d))
    .attr("y1", margin.top).attr("y2", H - margin.bottom);

// =========================
// LINES
// =========================
const dewLine = d3.line().x((d, i) => x(stepHours[i])).y(d => yDew(d));
const rainLine = d3.line().x((d, i) => x(stepHours[i])).y(d => yRain(d));
const plot = svg.append("g").attr("clip-path", "url(#plot-clip)");

plot.append("g").selectAll("path")
    .data(rainMembers)
    .join("path")
    .attr("d", d => rainLine(d))
    .attr("fill", "none")
    .attr("stroke", (d, i) => memberColors[i % 20])
    .attr("stroke-width", 1);

plot.append("g").selectAll("path")
    .data(dewMembers)
    .join("path")
    .attr("d", d => dewLine(d))
    .attr("fill", "none")
    .attr("stroke", (d, i) => memberColors[i % 20])
    .attr("stroke-width", 1);

// zero line
plot.append("line")
    .attr("x1", margin.left).attr("x2", W - margin.right)
    .attr("y1", yDew(0)).attr("y2", yDew(0))
    .attr("stroke", "#fff").attr("stroke-width", 1.5);

const thick = [
    { rain: rainControl, dew: dewControl, color: "#0a14ff" },
    { rain: rainOper, dew: dewOper, color: "#14dc14" },
    { rain: rainMean, dew: dewMean, color: "#ffffff" }
];
thick.forEach(s => {
    plot.append("path").attr("d", rainLine(s.rain))
        .attr("fill", "none").attr("stroke", s.color).attr("stroke-width", 3.2)
        .attr("stroke-linejoin", "round");
    plot.append("path").attr("d", dewLine(s.dew))
        .attr("fill", "none").attr("stroke", s.color).attr("stroke-width", 3.2)
        .attr("stroke-linejoin", "round");
});

// =========================
// AXES
// =========================
function styleAxis(g) {
    g.select(".domain").remove();
    g.selectAll(".tick line").attr("stroke", "#ddd");
    g.selectAll(".tick text").attr("fill", "#eee").style("font-size", "10.3px")
        .style("font-family", "DejaVu Sans, sans-serif");
}

svg.append("g")
    .attr("transform", `translate(${margin.left},0)`)
    .call(d3.axisLeft(yDew).tickValues(dewTicks).tickSize(-3).tickPadding(10))
    .call(styleAxis);

svg.append("g")
    .attr("transform", `translate(${W - margin.right},0)`)
    .call(d3.axisRight(yRain).tickValues(d3.range(0, 41)).tickSize(-3).tickFormat(""))
    .call(styleAxis);

svg.append("g")
    .attr("transform", `translate(${W - margin.right},0)`)
    .call(d3.axisRight(yRain).tickValues(rainTicks).tickSize(-4).tickPadding(7))
    .call(styleAxis);

svg.append("g")
    .attr("transform", `translate(0,${H - margin.bottom})`)
    .call(d3.axisBottom(x).tickValues(dateTickHours).tickSize(-3).tickPadding(9)
        .tickFormat((d, i) => dateTickLabels[i]))
    .call(styleAxis);

// little ticks along the top border
const topScale = d3.scaleLinear().domain([0, 17.5]).range([margin.left, W - margin.right]);
svg.append("g")
    .attr("transform", `translate(0,${margin.top})`)
    .call(d3.axisTop(topScale).tickValues(d3.range(1, 18)).tickSize(-3).tickFormat(""))
    .call(styleAxis);

// frame
svg.append("rect")
    .attr("x", margin.left).attr("y", margin.top)
    .attr("width", W - margin.left - margin.right)
    .attr("height", H - margin.top - margin.bottom)
    .attr("fill", "none").attr("stroke", "#ddd").attr("stroke-width", 1);

// =========================
// LABELS
// =========================
svg.append("text")
    .attr("x", 162).attr("y", 18)
    .attr("fill", "#fff")
    .style("font-size", "16px").style("font-weight", "bold")
    .text("De Bilt\u00a0\u00a0(NL)\u00a0\u00a02m dauwpunt & Neerslag | Thu, 08Jan2026 00Z");

svg.append("text")
    .attr("transform", `translate(135,${(margin.top + H - margin.bottom) / 2}) rotate(-90)`)
    .attr("text-anchor", "middle")
    .attr("fill", "#eee").style("font-size", "10.3px")
    .text("2m dauwpunt (°C)");

svg.append("text")
    .attr("transform", `translate(843,${(margin.top + H - margin.bottom) / 2}) rotate(-90)`)
    .attr("text-anchor", "middle")
    .attr("fill", "#eee").style("font-size", "10.3px")
    .text("Neerslag (mm)");

svg.append("text")
    .attr("x", x(192)).attr("y", 592)
    .attr("text-anchor", "middle")
    .attr("fill", "#eee").style("font-size", "10.3px")
    .text("Date (UTC)");

svg.append("text")
    .attr("x", 120).attr("y", 604)
    .attr("fill", "#eee").style("font-size", "16px")
    .text("GFS Ensemble, 52N, 5E");

svg.append("text")
    .attr("x", 794).attr("y", 604)
    .attr("text-anchor", "end")
    .attr("fill", "#eee").style("font-size", "16px")
    .text("Wetterzentrale.de");

// =========================
// LEGEND
// =========================
const legendItems = memberNames.map((name, i) => ({ name, color: memberColors[i % 20], width: 2 }))
    .concat([
        { name: "Control", color: "#0a14ff", width: 3 },
        { name: "Ens. mean", color: "#ffffff", width: 3 },
        { name: "Oper", color: "#14dc14", width: 3 }
    ]);

const legend = svg.append("g");
legendItems.forEach((item, k) => {
    const col = k % 2, row = Math.floor(k / 2);
    const lx = col * 54.5, ly = 40.5 + row * 15.05;
    legend.append("line")
        .attr("x1", lx).attr("x2", lx + 9.5)
        .attr("y1", ly).attr("y2", ly)
        .attr("stroke", item.color).attr("stroke-width", item.width);
    legend.append("text")
        .attr("x", lx + 9.5).attr("y", ly).attr("dy", "0.35em")
        .attr("fill", "#fff").style("font-size", "10.3px")
        .text(item.name);
});
</script>
</body>
</html>
